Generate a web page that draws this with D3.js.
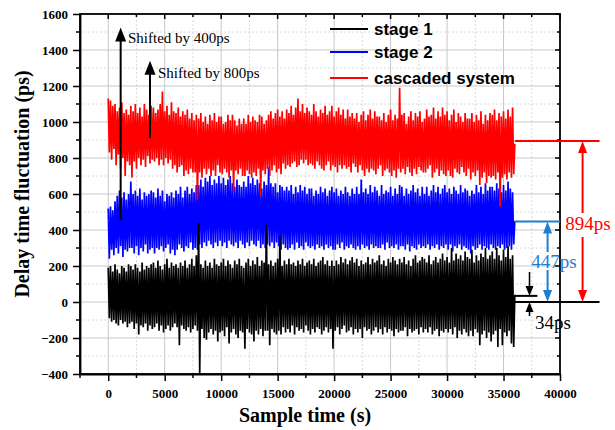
<!DOCTYPE html>
<html lang="en">
<head>
    <meta charset="UTF-8">
    <title>Delay time fluctuation</title>
    <script src="https://cdnjs.cloudflare.com/ajax/libs/d3/7.8.5/d3.min.js"></script>
    <style>
        body { margin: 0; background: #fff; }
    </style>
</head>
<body>
    <div id="chart"></div>

    <script>
        // one reading every 100 s, 0 .. 36000 s (each row = 2000 s)
        const step = 100;

        const stage1 = [
            190, -90, 200, -110, 170, -100, 210, -120, 180, -130, 160, -100, 200, -120, 190, -110, 170, -140, 210, -120,
            200, -110, 180, -150, 210, -120, 190, -180, 170, -130, 220, -140, 180, -120, 200, -160, 190, -130, 210, -150,
            220, -140, 190, -120, 230, -160, 200, -130, 180, -170, 210, -150, 240, -130, 190, -160, 220, -140, 200, -120,
            210, -140, 190, -240, 220, -130, 200, -150, 230, -160, 190, -140, 210, -170, 240, -150, 200, -130, 260, -160,
            440, -400, 210, -150, 190, -200, 230, -210, 200, -170, 220, -150, 190, -180, 240, -160, 210, -220, 200, -170,
            220, -160, 240, -190, 200, -140, 230, -230, 210, -170, 190, -150, 230, -180, 210, -200, 240, -160, 200, -170,
            190, -260, 220, -150, 240, -170, 200, -180, 230, -220, 210, -160, 250, -180, 200, -150, 230, -190, 220, -160,
            430, -160, 210, -240, 230, -150, 200, -170, 220, -180, 240, -160, 370, -180, 200, -140, 230, -170, 210, -150,
            240, -170, 210, -130, 220, -180, 200, -140, 230, -160, 210, -150, 240, -170, 200, -130, 220, -160, 230, -180,
            210, -150, 240, -170, 200, -140, 220, -150, 230, -180, 250, -160, 210, -140, 230, -170, 200, -150, 230, -260,
            200, -160, 230, -140, 210, -180, 250, -150, 220, -130, 240, -170, 210, -160, 230, -140, 250, -180, 220, -150,
            240, -170, 200, -150, 230, -200, 210, -140, 220, -160, 250, -150, 210, -180, 240, -160, 220, -140, 230, -170,
            260, -150, 210, -180, 230, -140, 200, -170, 240, -150, 220, -160, 250, -190, 230, -150, 210, -170, 240, -160,
            220, -160, 250, -140, 210, -190, 230, -150, 200, -170, 240, -160, 260, -150, 220, -180, 230, -140, 250, -170,
            240, -150, 220, -170, 260, -140, 210, -180, 230, -160, 250, -150, 220, -190, 240, -160, 270, -170, 230, -150,
            250, -170, 220, -150, 300, -180, 230, -140, 270, -200, 240, -160, 260, -180, 230, -150, 280, -170, 250, -190,
            240, -160, 290, -190, 220, -150, 260, -170, 230, -240, 270, -180, 250, -160, 300, -200, 240, -170, 260, -220,
            280, -180, 240, -160, 300, -250, 260, -150, 230, -240, 290, -170, 250, -190, 310, -160, 240, -230, 260, -250,
            40
        ];

        const stage2 = [
            520, 240, 530, 290, 510, 260, 560, 300, 590, 270, 620, 310, 580, 250, 610, 290, 570, 280, 600, 300,
            670, 300, 600, 270, 620, 310, 590, 260, 630, 300, 570, 280, 610, 320, 590, 270, 600, 290, 620, 300,
            610, 270, 580, 300, 630, 290, 590, 310, 620, 280, 560, 300, 600, 320, 590, 270, 610, 290, 580, 260,
            620, 290, 600, 320, 640, 300, 580, 280, 620, 310, 640, 300, 600, 330, 630, 290, 610, 300, 650, 290,
            650, 320, 680, 300, 640, 330, 690, 310, 670, 340, 700, 320, 650, 300, 680, 330, 660, 310, 700, 340,
            660, 310, 690, 330, 650, 300, 680, 340, 700, 320, 660, 310, 640, 330, 680, 300, 650, 340, 640, 320,
            670, 300, 640, 330, 700, 310, 660, 340, 690, 320, 650, 310, 680, 340, 660, 300, 630, 320, 670, 300,
            650, 320, 750, 310, 660, 330, 640, 300, 660, 330, 610, 310, 650, 290, 640, 320, 620, 300, 640, 290,
            620, 300, 650, 320, 600, 290, 640, 330, 610, 300, 650, 310, 620, 290, 640, 330, 600, 310, 630, 300,
            630, 310, 590, 290, 620, 320, 600, 300, 640, 310, 610, 290, 630, 320, 590, 300, 620, 310, 640, 290,
            610, 290, 630, 320, 590, 300, 620, 330, 600, 290, 640, 310, 610, 300, 590, 320, 630, 300, 600, 290,
            640, 310, 600, 290, 680, 320, 610, 300, 630, 310, 600, 290, 650, 320, 610, 300, 640, 310, 620, 300,
            590, 300, 650, 320, 600, 290, 620, 330, 610, 300, 640, 310, 590, 300, 630, 320, 600, 290, 650, 310,
            640, 310, 590, 290, 630, 320, 600, 280, 620, 310, 650, 300, 610, 290, 630, 320, 590, 300, 640, 310,
            600, 300, 640, 320, 590, 290, 620, 310, 650, 300, 610, 320, 640, 290, 600, 310, 630, 300, 650, 320,
            610, 290, 630, 320, 600, 280, 640, 310, 620, 300, 600, 320, 650, 290, 610, 310, 630, 300, 620, 290,
            590, 270, 620, 310, 600, 290, 650, 300, 610, 320, 640, 290, 600, 310, 660, 300, 620, 290, 640, 320,
            640, 300, 620, 290, 660, 310, 630, 300, 610, 320, 650, 290, 620, 300, 670, 310, 630, 290, 610, 320,
            450
        ];

        const cascaded = [
            1130, 830, 1120, 790, 1090, 850, 1100, 760, 1060, 820, 1080, 740, 1110, 800, 1050, 700, 1070, 780, 1040, 760,
            1090, 690, 1060, 780, 1100, 740, 1050, 800, 1080, 760, 1030, 790, 1100, 750, 1070, 810, 1040, 770, 1090, 790,
            1080, 780, 1050, 800, 1070, 760, 1100, 790, 1170, 760, 1060, 800, 1090, 770, 1040, 790, 1110, 740, 1060, 760,
            1050, 720, 1080, 750, 1030, 760, 1060, 700, 1040, 730, 1070, 710, 1020, 740, 1050, 720, 1010, 720, 1040, 570,
            1020, 720, 1050, 690, 1000, 740, 1030, 710, 990, 740, 1040, 700, 1010, 730, 1050, 700, 1000, 760, 1030, 720,
            1030, 710, 990, 740, 1000, 720, 1040, 690, 1010, 730, 1040, 610, 1010, 730, 980, 710, 1020, 740, 990, 700,
            1020, 700, 990, 730, 1040, 710, 1000, 690, 1030, 720, 1010, 700, 1000, 740, 1040, 590, 1030, 730, 990, 710,
            1010, 740, 1040, 700, 1060, 730, 1020, 760, 1050, 720, 1070, 740, 1030, 710, 1060, 770, 1020, 740, 1070, 760,
            1050, 750, 1090, 770, 1040, 780, 1080, 750, 1130, 760, 1060, 790, 1100, 770, 1050, 790, 1080, 760, 1060, 770,
            1040, 760, 1100, 740, 1060, 780, 1030, 760, 1070, 740, 1050, 730, 1090, 760, 1040, 780, 1060, 730, 1090, 760,
            1030, 750, 1060, 720, 1080, 760, 1040, 740, 1070, 760, 1020, 740, 1070, 750, 1030, 720, 1050, 770, 1020, 750,
            1050, 720, 1000, 760, 1040, 730, 1060, 700, 1010, 740, 1040, 720, 1070, 740, 1020, 730, 1060, 710, 1030, 740,
            1030, 760, 1010, 700, 1050, 730, 1000, 740, 1040, 720, 1070, 700, 1010, 730, 1040, 690, 1020, 740, 1190, 720,
            1040, 740, 1050, 710, 990, 750, 1030, 720, 1060, 700, 1010, 740, 1050, 710, 1030, 750, 1060, 730, 1000, 720,
            1020, 720, 1070, 740, 1030, 760, 1040, 690, 1080, 720, 1020, 740, 1060, 700, 1030, 730, 1080, 710, 1040, 700,
            1060, 730, 1010, 700, 1040, 690, 1070, 740, 1000, 720, 1050, 710, 1030, 750, 1000, 720, 1050, 700, 1020, 740,
            1020, 680, 1050, 720, 1000, 700, 1040, 730, 1010, 650, 1060, 690, 990, 720, 1040, 660, 1010, 700, 1050, 690,
            1040, 700, 1070, 680, 1010, 720, 1050, 530, 1030, 690, 1060, 710, 1020, 680, 1070, 720, 1030, 690, 1080, 710,
            880
        ];

        const xTicks = [0, 5000, 10000, 15000, 20000, 25000, 30000, 35000, 40000];
        const yTicks = [-400, -200, 0, 200, 400, 600, 800, 1000, 1200, 1400, 1600];
        const seriesNames = ["stage 1", "stage 2", "cascaded system"];
        const seriesColors = ["#000000", "#0000ff", "#ff0000"];

        const width = 615;
        const height = 430;
        const margin = { top: 14, right: 55, bottom: 56, left: 80 };
        const serif = '"Liberation Serif", "Times New Roman", serif';
        const sans = '"Liberation Sans", Arial, sans-serif';

        const svg = d3.select("#chart")
            .append("svg")
            .attr("width", width)
            .attr("height", height);

        const x = d3.scaleLinear()
            .domain([-2500, 40000])
            .range([margin.left, width - margin.right]);

        const y = d3.scaleLinear()
            .domain([-400, 1600])
            .range([height - margin.bottom, margin.top]);

        const x0 = margin.left, x1 = width - margin.right;
        const y0 = height - margin.bottom, y1 = margin.top;

        // grid: solid at major ticks, dotted halfway
        const minorX = d3.range(-2500, 40001, 2500);
        const minorY = d3.range(-400, 1601, 100);
        const grid = svg.append("g");
        grid.selectAll(".gx")
            .data(minorX.filter(d => d > -2500 && d < 40000))
            .join("line")
            .attr("x1", d => x(d)).attr("x2", d => x(d))
            .attr("y1", y0).attr("y2", y1)
            .attr("stroke", d => d % 5000 === 0 ? "#c8c8c8" : "#dadada")
            .attr("stroke-dasharray", d => d % 5000 === 0 ? null : "2,2");
        grid.selectAll(".gy")
            .data(minorY.filter(d => d > -400 && d < 1600))
            .join("line")
            .attr("y1", d => y(d)).attr("y2", d => y(d))
            .attr("x1", x0).attr("x2", x1)
            .attr("stroke", d => d % 200 === 0 ? "#c8c8c8" : "#dadada")
            .attr("stroke-dasharray", d => d % 200 === 0 ? null : "2,2");

        // data
        svg.append("clipPath").attr("id", "clip")
            .append("rect")
            .attr("x", x0).attr("y", y1)
            .attr("width", x1 - x0).attr("height", y0 - y1);

        const line = d3.line()
            .x((d, i) => x(i * step))
            .y(d => y(d));

        const plot = svg.append("g").attr("clip-path", "url(#clip)");
        // blue first, black and red drawn over it
        [[stage2, 1], [stage1, 0], [cascaded, 2]].forEach(([vals, k]) => {
            plot.append("path")
                .datum(vals)
                .attr("fill", "none")
                .attr("stroke", seriesColors[k])
                .attr("stroke-width", 1.7)
                .attr("stroke-linejoin", "bevel")
                .attr("d", line);
        });

        // axes
        const axBottom = svg.append("g")
            .attr("transform", `translate(0,${y0})`)
            .call(d3.axisBottom(x).tickValues(xTicks).tickFormat(d3.format("d"))
                .tickSize(7).tickPadding(8).tickSizeOuter(0));
        axBottom.append("g").selectAll("line")
            .data(minorX.filter(d => d % 5000 !== 0))
            .join("line")
            .attr("x1", d => x(d)).attr("x2", d => x(d))
            .attr("y1", 0).attr("y2", 4)
            .attr("stroke", "#000").attr("stroke-width", 1.5);

        const axLeft = svg.append("g")
            .attr("transform", `translate(${x0},0)`)
            .call(d3.axisLeft(y).tickValues(yTicks).tickFormat(d3.format("d"))
                .tickSize(7).tickPadding(5).tickSizeOuter(0));
        axLeft.append("g").selectAll("line")
            .data(minorY.filter(d => d % 200 !== 0))
            .join("line")
            .attr("y1", d => y(d)).attr("y2", d => y(d))
            .attr("x1", 0).attr("x2", -4)
            .attr("stroke", "#000").attr("stroke-width", 1.5);

        [axBottom, axLeft].forEach(g => {
            g.selectAll("text")
                .attr("fill", "#000")
                .style("font-family", serif)
                .style("font-weight", "bold")
                .style("font-size", "13px");
            g.select(".domain").attr("stroke-width", 1.8);
            g.selectAll(".tick line").attr("stroke-width", 1.5);
        });

        // mirrored ticks on top and right
        svg.append("g").selectAll("line")
            .data(minorX.filter(d => d > -2500))
            .join("line")
            .attr("x1", d => x(d)).attr("x2", d => x(d))
            .attr("y1", y1).attr("y2", d => y1 + (d % 5000 === 0 ? 5 : 3))
            .attr("stroke", "#000").attr("stroke-width", 1.5);
        svg.append("g").selectAll("line")
            .data(minorY.filter(d => d > -400))
            .join("line")
            .attr("y1", d => y(d)).attr("y2", d => y(d))
            .attr("x1", x1).attr("x2", d => x1 - (d % 200 === 0 ? 5 : 3))
            .attr("stroke", "#000").attr("stroke-width", 1.5);

        svg.append("rect")
            .attr("x", x0).attr("y", y1)
            .attr("width", x1 - x0).attr("height", y0 - y1)
            .attr("fill", "none").attr("stroke", "#000").attr("stroke-width", 1.8);

        // axis titles
        svg.append("text")
            .attr("x", 305).attr("y", 422)
            .attr("text-anchor", "middle")
            .attr("font-family", serif).attr("font-weight", "bold").attr("font-size", "20px")
            .text("Sample time (s)");
        svg.append("text")
            .attr("transform", "translate(29,184) rotate(-90)")
            .attr("text-anchor", "middle")
            .attr("font-family", serif).attr("font-weight", "bold").attr("font-size", "20px")
            .text("Delay time fluctuation (ps)");

        // legend
        const legend = svg.append("g");
        seriesNames.forEach((name, i) => {
            const ly = [29, 52, 78][i];
            legend.append("line")
                .attr("x1", 330).attr("x2", 368).attr("y1", ly).attr("y2", ly)
                .attr("stroke", seriesColors[i]).attr("stroke-width", 2);
            legend.append("text")
                .attr("x", 374).attr("y", ly + 6)
                .attr("font-family", sans).attr("font-weight", "bold").attr("font-size", "17px")
                .text(name);
        });

        // arrow helper: tip at (ax, ayTip), tail at ayTail
        function arrow(ax, ayTail, ayTip, color, w, hw, hl) {
            const dir = ayTip < ayTail ? 1 : -1;
            svg.append("line")
                .attr("x1", ax).attr("x2", ax)
                .attr("y1", ayTail).attr("y2", ayTip + dir * hl * 0.8)
                .attr("stroke", color).attr("stroke-width", w);
            svg.append("path")
                .attr("d", `M${ax},${ayTip} L${ax - hw / 2},${ayTip + dir * hl} L${ax + hw / 2},${ayTip + dir * hl} Z`)
                .attr("fill", color);
        }

        // shift annotations
        arrow(x(1100), y(455), y(1525), "#000", 2, 11, 14);
        arrow(x(3700), y(911), y(1340), "#000", 2, 11, 14);
        svg.append("text")
            .attr("x", 128).attr("y", 43)
            .attr("font-family", serif).attr("font-size", "15px")
            .text("Shifted by 400ps");
        svg.append("text")
            .attr("x", 158).attr("y", 78)
            .attr("font-family", serif).attr("font-size", "15px")
            .text("Shifted by 800ps");

        // peak-to-peak annotations on the right
        const blueNote = "#1f7ed0";
        const hline = (v, xa, xb, color) => svg.append("line")
            .attr("x1", x(xa)).attr("x2", x(xb))
            .attr("y1", y(v)).attr("y2", y(v))
            .attr("stroke", color).attr("stroke-width", 2);
        hline(894, 36000, 43500, "#ff0000");
        hline(447, 36000, 40000, blueNote);
        hline(34, 36000, 38000, "#000");
        hline(0, 36000, 43500, "#000");

        const rx = x(42000), bx = x(38900), kx = x(37300);
        arrow(rx, 213, y(894), "#ff0000", 2, 9, 12);
        arrow(rx, 237, y(0), "#ff0000", 2, 9, 12);
        arrow(bx, 252, y(447), blueNote, 2, 9, 12);
        arrow(bx, 270, y(0), blueNote, 2, 9, 12);
        arrow(kx, 272, y(34), "#000", 1.5, 8, 10);
        arrow(kx, 316, y(0), "#000", 1.5, 8, 10);

        svg.append("text")
            .attr("x", 588).attr("y", 230)
            .attr("text-anchor", "middle")
            .attr("font-family", serif).attr("font-size", "19px").attr("fill", "#ff0000")
            .text("894ps");
        svg.append("text")
            .attr("x", 554).attr("y", 268)
            .attr("text-anchor", "middle")
            .attr("font-family", serif).attr("font-size", "19px").attr("fill", blueNote)
            .text("447ps");
        svg.append("text")
            .attr("x", 535).attr("y", 329)
            .attr("font-family", serif).attr("font-size", "19px").attr("fill", "#000")
            .text("34ps");
    </script>
</body>
</html>
